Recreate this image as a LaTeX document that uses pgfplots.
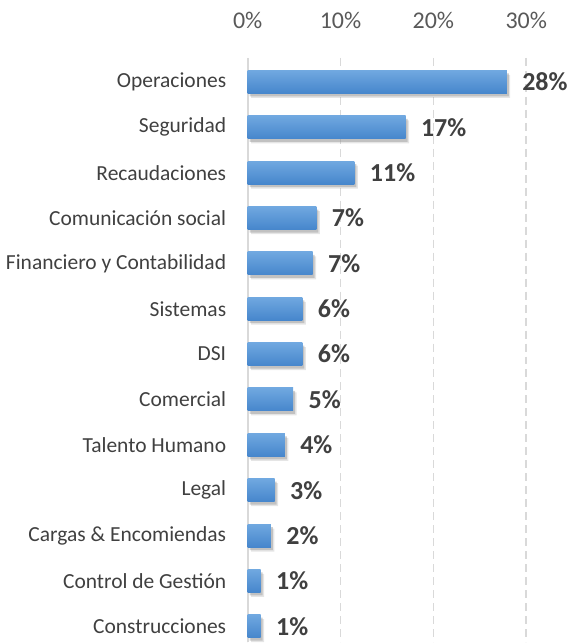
\documentclass[border=0pt]{standalone}
\usepackage{pgfplots}
\pgfplotsset{compat=1.18}
\usepackage{pgfplotstable}
\usepackage{fontspec}
\setmainfont{Carlito}

\definecolor{bartop}{RGB}{112,168,224}
\definecolor{barbot}{RGB}{70,134,204}
\definecolor{lbl}{RGB}{64,64,64}
\definecolor{tck}{RGB}{89,89,89}
\definecolor{grd}{RGB}{217,217,217}
\definecolor{shd}{RGB}{150,150,150}

\pgfplotstableread{
idx val lab
0 27.9 28
1 17.0 17
2 11.5 11
3 7.4 7
4 7.0 7
5 5.9 6
6 5.9 6
7 4.9 5
8 4.0 4
9 2.9 3
10 2.5 2
11 1.4 1
12 1.4 1
}\datatable

\begin{document}
\begin{tikzpicture}
\begin{axis}[
    xbar, bar width=23pt, bar shift=0pt,
    scale only axis, width=279pt, height=585pt,
    xmin=0, xmax=30, ymin=-0.53, ymax=12.35, y dir=reverse,
    separate axis lines,
    axis x line*=top, axis y line*=left,
    x axis line style={draw=none},
    y axis line style={draw=grd, line width=1.8pt, -},
    xtick={0,10,20,30},
    xticklabels={0\%,10\%,20\%,30\%},
    xticklabel style={font=\fontsize{24}{24}\selectfont, text=tck, yshift=26pt},
    ytick={0,...,12},
    yticklabels={Operaciones, Seguridad, Recaudaciones, Comunicación social,
        Financiero y Contabilidad, Sistemas, DSI, Comercial, Talento Humano,
        Legal, Cargas \& Encomiendas, Control de Gestión, Construcciones},
    yticklabel style={font=\fontsize{21.5}{21.5}\selectfont, text=lbl, xshift=-18pt},
    major tick length=0pt,
    xmajorgrids,
    grid style={draw=grd, line width=1.6pt, dash pattern=on 8pt off 5pt},
    clip=false,
]
% soft shadow under the bars (two offset layers)
\addplot[draw=none, fill=shd, fill opacity=0.25, xshift=3.5pt, yshift=-4.5pt]
    table[x=val, y=idx] {\datatable};
\addplot[draw=none, fill=shd, fill opacity=0.45, xshift=2pt, yshift=-3pt]
    table[x=val, y=idx] {\datatable};
% one plot per bar, so that each bar gets its own gradient
\pgfplotsinvokeforeach{0,...,12}{
\addplot[draw=none, top color=bartop, bottom color=barbot,
    restrict expr to domain={\thisrow{idx}}{#1:#1}]
    table[x=val, y=idx] {\datatable};
}
% value labels
\addplot[draw=none, fill=none,
    point meta=explicit symbolic,
    nodes near coords={\pgfplotspointmeta\%},
    every node near coord/.append style={anchor=west, xshift=12pt,
        font=\fontsize{26}{26}\selectfont\bfseries, text=lbl}]
    table[x=val, y=idx, meta=lab] {\datatable};
\end{axis}
% frame of the picture: as in the reference
\path ([yshift=58pt]current axis.north);
\path ([xshift=-248pt]current axis.west);
\path ([xshift=46pt]current axis.east);
\end{tikzpicture}
\end{document}
